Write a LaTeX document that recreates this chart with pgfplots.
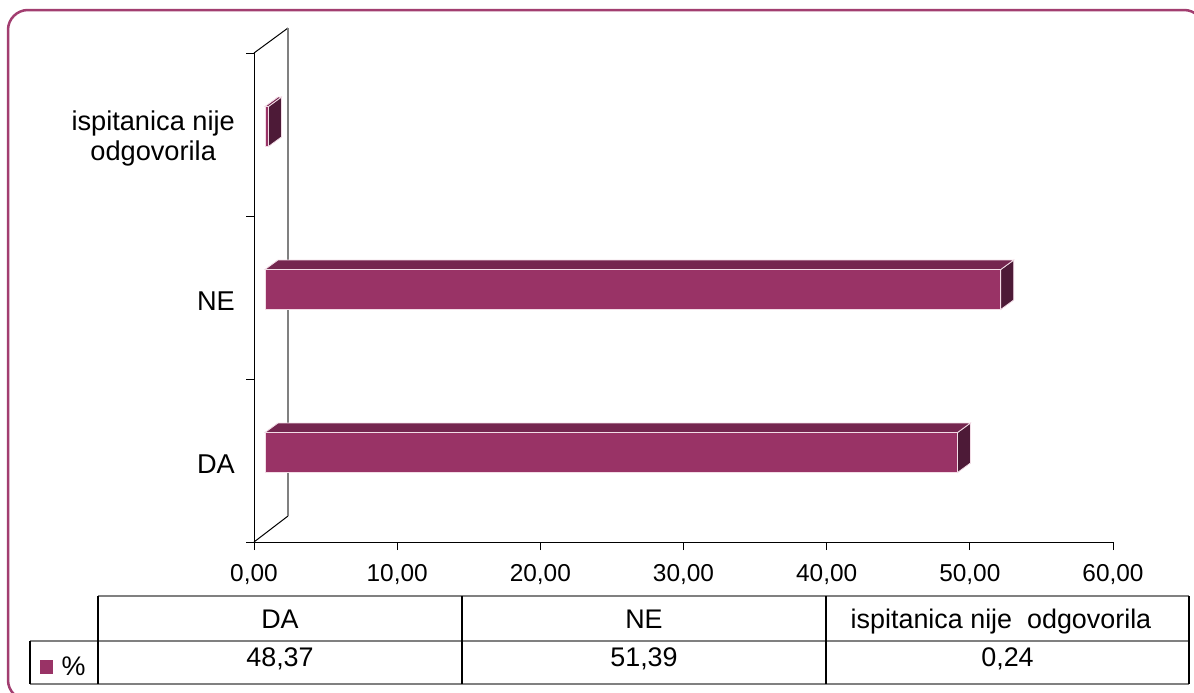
\documentclass[border=0pt]{standalone}
\usepackage{pgfplots}
\pgfplotsset{compat=1.18}
\usepackage{pgfplotstable}
\usepackage{fontspec}
\setmainfont{Liberation Sans}
\definecolor{frontcol}{HTML}{993366}
\definecolor{topcol}{HTML}{74264F}
\definecolor{sidecol}{HTML}{4D1A37}
\definecolor{edgecol}{HTML}{F2DCE6}
\definecolor{framecol}{HTML}{A23E70}
\definecolor{tabgray}{HTML}{808080}
\pgfplotstableread{
y v
0.5 48.37
1.5 51.39
2.5 0.24
}\data
\begin{document}
\begin{tikzpicture}
\useasboundingbox (0bp,0bp) rectangle (1194bp,-693bp);
\draw[framecol, line width=2.5bp, rounded corners=20bp] (8bp,-10bp) rectangle (1204bp,-700bp);
\begin{axis}[
  at={(254bp,-542bp)}, anchor=south west,
  scale only axis, width=859bp, height=489bp,
  xmin=0, xmax=60, ymin=0, ymax=3,
  clip=false,
  axis x line*=bottom, axis y line*=left,
  axis line style={-, black, line width=1bp},
  tick align=outside, major tick length=8bp,
  tick style={black, line width=1bp},
  xtick={0,10,20,30,40,50,60},
  xticklabel style={font=\fontsize{24.5}{28}\selectfont, anchor=base, inner sep=0pt, yshift=-31bp},
  /pgf/number format/.cd, fixed, fixed zerofill, precision=2, use comma, assume math mode=true, /pgfplots/.cd,
  ytick={0,1,2,3}, yticklabels={,,,},
  extra y ticks={0.5,1.5,2.5},
  extra y tick labels={DA,NE,{ispitanica nije\\odgovorila}},
  extra y tick style={major tick length=0pt},
  yticklabel style={font=\fontsize{27.3}{31}\selectfont, align=center, anchor=east, inner sep=0pt, xshift=-19bp, yshift=-4bp},
]
% 3D wall
\draw[black, line width=1bp] (rel axis cs:0,1) -- ++(34bp,25bp);
\draw[black, line width=1bp] (rel axis cs:0,0) -- ++(34bp,26bp);
\draw[tabgray, line width=1.5bp] ([shift={(34bp,25bp)}]rel axis cs:0,1) -- ([shift={(34bp,26bp)}]rel axis cs:0,0);
% 3D bars
\addplot[scatter, only marks, mark=*, mark size=0pt, draw opacity=0, fill opacity=0,
  visualization depends on={rawx \as \val},
  scatter/@pre marker code/.code={%
    \pgfmathsetmacro{\L}{\val*14.31667}%
    \fill[sidecol, draw=edgecol, line width=0.8bp, fill opacity=1, draw opacity=1] (11bp,-12bp) -- (24bp,-2.5bp) -- (24bp,37.5bp) -- (11bp,28bp) -- cycle;
    \fill[topcol, draw=edgecol, line width=0.8bp, fill opacity=1, draw opacity=1] (11bp-\L bp,28bp) -- (11bp,28bp) -- (24bp,37.5bp) -- (24bp-\L bp,37.5bp) -- cycle;
    \fill[frontcol, draw=edgecol, line width=0.8bp, fill opacity=1, draw opacity=1] (11bp-\L bp,-12bp) rectangle (11bp,28bp);
  },
  scatter/@post marker code/.code={},
] table[x=v, y=y] {\data};
\end{axis}
% data table
\draw[tabgray, line width=1.5bp] (98bp,-596bp) -- (1189bp,-596bp);
\draw[tabgray, line width=1.5bp] (30bp,-641bp) -- (1189bp,-641bp);
\draw[tabgray, line width=1.5bp] (30bp,-684bp) -- (1189bp,-684bp);
\draw[black, line width=1.2bp] (30bp,-641bp) -- (30bp,-684bp);
\foreach \xx in {98,462,826,1189} \draw[black, line width=1.2bp] (\xx bp,-596bp) -- (\xx bp,-684bp);
\begin{scope}[every node/.style={font=\fontsize{27}{31}\selectfont, inner sep=0pt, anchor=base}]
\node at (280bp,-628bp) {DA};
\node at (644bp,-628bp) {NE};
\node at (1001bp,-628bp) {ispitanica nije\ \ odgovorila};
\node at (280bp,-666bp) {48,37};
\node at (644bp,-666bp) {51,39};
\node at (1007.5bp,-666bp) {0,24};
\node at (73.5bp,-675bp) {\%};
\end{scope}
\fill[frontcol] (40bp,-660bp) rectangle (53bp,-674bp);
\end{tikzpicture}
\end{document}
